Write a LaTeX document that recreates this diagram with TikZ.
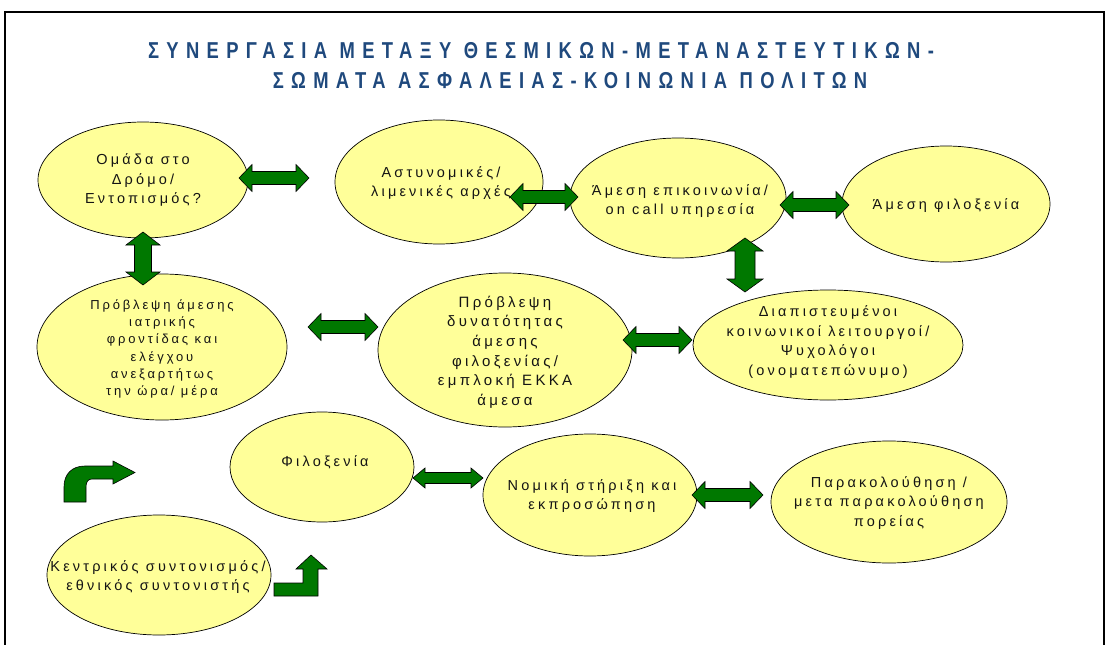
\documentclass[tikz,border=0pt]{standalone}
\usepackage{fontspec}
\setmainfont{Liberation Sans}
\newfontfamily\bodyfont[LetterSpace=22]{Liberation Sans}
\newfontfamily\titlefont[LetterSpace=32,FakeStretch=0.8]{Liberation Sans}
\usetikzlibrary{shapes.geometric,calc}
\definecolor{bubblefill}{RGB}{255,255,153}
\definecolor{arrowgreen}{RGB}{0,120,0}
\definecolor{titleblue}{RGB}{31,73,125}
\definecolor{textdark}{RGB}{20,20,20}

% double block arrow: ends #1 #2, half head #3, half shaft #4, head length #5
\newcommand{\dblarrow}[5]{%
 \filldraw[blockarrow] (#1)
 -- ($(#1)!#5!(#2)!#3!90:(#2)$) -- ($(#1)!#5!(#2)!#4!90:(#2)$)
 -- ($(#2)!#5!(#1)!#4!-90:(#1)$) -- ($(#2)!#5!(#1)!#3!-90:(#1)$)
 -- (#2)
 -- ($(#2)!#5!(#1)!#3!90:(#1)$) -- ($(#2)!#5!(#1)!#4!90:(#1)$)
 -- ($(#1)!#5!(#2)!#4!-90:(#2)$) -- ($(#1)!#5!(#2)!#3!-90:(#2)$)
 -- cycle;}

\begin{document}
\begin{tikzpicture}[x=1pt,y=-1pt,
 bubble/.style={ellipse,draw=black,line width=0.7pt,fill=bubblefill,inner sep=0pt},
 txt/.style={align=center,inner sep=0pt,text=textdark,font=\bodyfont\fontsize{14.5}{19.5}\selectfont},
 small/.style={font=\bodyfont\fontsize{13}{17.2}\selectfont},
 large/.style={font=\bodyfont\fontsize{15}{19.6}\selectfont},
 heading/.style={inner sep=0pt,text=titleblue,font=\titlefont\bfseries\fontsize{23}{27}\selectfont},
 blockarrow/.style={fill=arrowgreen,draw=black,line width=0.6pt,line join=miter}]
\useasboundingbox (0,0) rectangle (1106,645);
\draw[line width=2pt] (5,645) -- (5,12) -- (1104,12) -- (1104,645);

% title
\node[heading] (title1) at (541,51) {ΣΥΝΕΡΓΑΣΙΑ ΜΕΤΑΞΥ ΘΕΣΜΙΚΩΝ-ΜΕΤΑΝΑΣΤΕΥΤΙΚΩΝ-};
\node[heading] (title2) at (570,81) {ΣΩΜΑΤΑ ΑΣΦΑΛΕΙΑΣ-ΚΟΙΝΩΝΙΑ ΠΟΛΙΤΩΝ};

% bubbles
\node[bubble,minimum width=210,minimum height=116] (dromo) at (143,180) {};
\node[txt] (dromo-t) at (dromo) {Ομάδα στο\\Δρόμο/\\Εντοπισμός?};
\node[bubble,minimum width=208,minimum height=124] (limen) at (439,182) {};
\node[txt] (limen-t) at (441,183) {Αστυνομικές/\\λιμενικές αρχές};
\node[bubble,minimum width=216,minimum height=120] (epik) at (678,198) {};
\node[txt] (epik-t) at (680,201) {Άμεση επικοινωνία/\\on call υπηρεσία};
\node[bubble,minimum width=208,minimum height=116] (amfil) at (946,204) {};
\node[txt] (amfil-t) at (946,206) {Άμεση φιλοξενία};
\node[bubble,minimum width=250,minimum height=146] (iatr) at (162,347) {};
\node[txt,small] (iatr-t) at (162,349) {Πρόβλεψη άμεσης\\ιατρικής\\φροντίδας και\\ελέγχου\\ανεξαρτήτως\\την ώρα/ μέρα};
\node[bubble,minimum width=254,minimum height=154] (dynat) at (505,350) {};
\node[txt,large] (dynat-t) at (505,352) {Πρόβλεψη\\δυνατότητας\\άμεσης\\φιλοξενίας/\\εμπλοκή ΕΚΚΑ\\άμεσα};
\node[bubble,minimum width=270,minimum height=110] (diap) at (828,345) {};
\node[txt] (diap-t) at (828,342) {Διαπιστευμένοι\\κοινωνικοί λειτουργοί/\\Ψυχολόγοι\\(ονοματεπώνυμο)};
\node[bubble,minimum width=184,minimum height=110] (filox) at (322,467) {};
\node[txt] (filox-t) at (325,462) {Φιλοξενία};
\node[bubble,minimum width=214,minimum height=122] (nomik) at (590,495) {};
\node[txt] (nomik-t) at (592,496) {Νομική στήριξη και\\εκπροσώπηση};
\node[bubble,minimum width=236,minimum height=122] (parak) at (889,502) {};
\node[txt] (parak-t) at (889,503) {Παρακολούθηση /\\μετα παρακολούθηση\\πορείας};
\node[bubble,minimum width=224,minimum height=120] (kentr) at (159,575) {};
\node[txt] (kentr-t) at (158,577) {Κεντρικός συντονισμός/\\εθνικός συντονιστής};

% arrow ends
\coordinate (a1s) at (239,178); \coordinate (a1e) at (309,178);
\coordinate (a2s) at (510,197); \coordinate (a2e) at (578,197);
\coordinate (a3s) at (780,205); \coordinate (a3e) at (849,205);
\coordinate (a4s) at (143,232); \coordinate (a4e) at (143,285);
\coordinate (a5s) at (308,327); \coordinate (a5e) at (378,327);
\coordinate (a6s) at (623,340); \coordinate (a6e) at (692,340);
\coordinate (a7s) at (745,238); \coordinate (a7e) at (745,292);
\coordinate (a8s) at (413,478); \coordinate (a8e) at (483,478);
\coordinate (a9s) at (692,495); \coordinate (a9e) at (763,495);

\dblarrow{a1s}{a1e}{13.5pt}{6.5pt}{13pt}
\dblarrow{a2s}{a2e}{13.5pt}{6.5pt}{13pt}
\dblarrow{a3s}{a3e}{13.5pt}{6.5pt}{13pt}
\dblarrow{a4s}{a4e}{17pt}{8.5pt}{13pt}
\dblarrow{a5s}{a5e}{13.5pt}{6.5pt}{13pt}
\dblarrow{a6s}{a6e}{13.5pt}{6.5pt}{13pt}
\dblarrow{a7s}{a7e}{18pt}{10pt}{13pt}
\dblarrow{a8s}{a8e}{10pt}{5.5pt}{12pt}
\dblarrow{a9s}{a9e}{13.5pt}{6.5pt}{13pt}

% bent arrows
\filldraw[blockarrow] (64,502) -- (64,487) .. controls (64,474) and (72,466) .. (85,466)
 -- (113,466) -- (113,461) -- (135,472.5) -- (113,484) -- (113,479) -- (92,479)
 .. controls (88,479) and (86,482) .. (86,487) -- (86,502) -- cycle;
\filldraw[blockarrow] (274,583) -- (303,583) -- (303,569) -- (296,569) -- (311,555)
 -- (327,569) -- (318,569) -- (318,596) -- (274,596) -- cycle;
\end{tikzpicture}
\end{document}
